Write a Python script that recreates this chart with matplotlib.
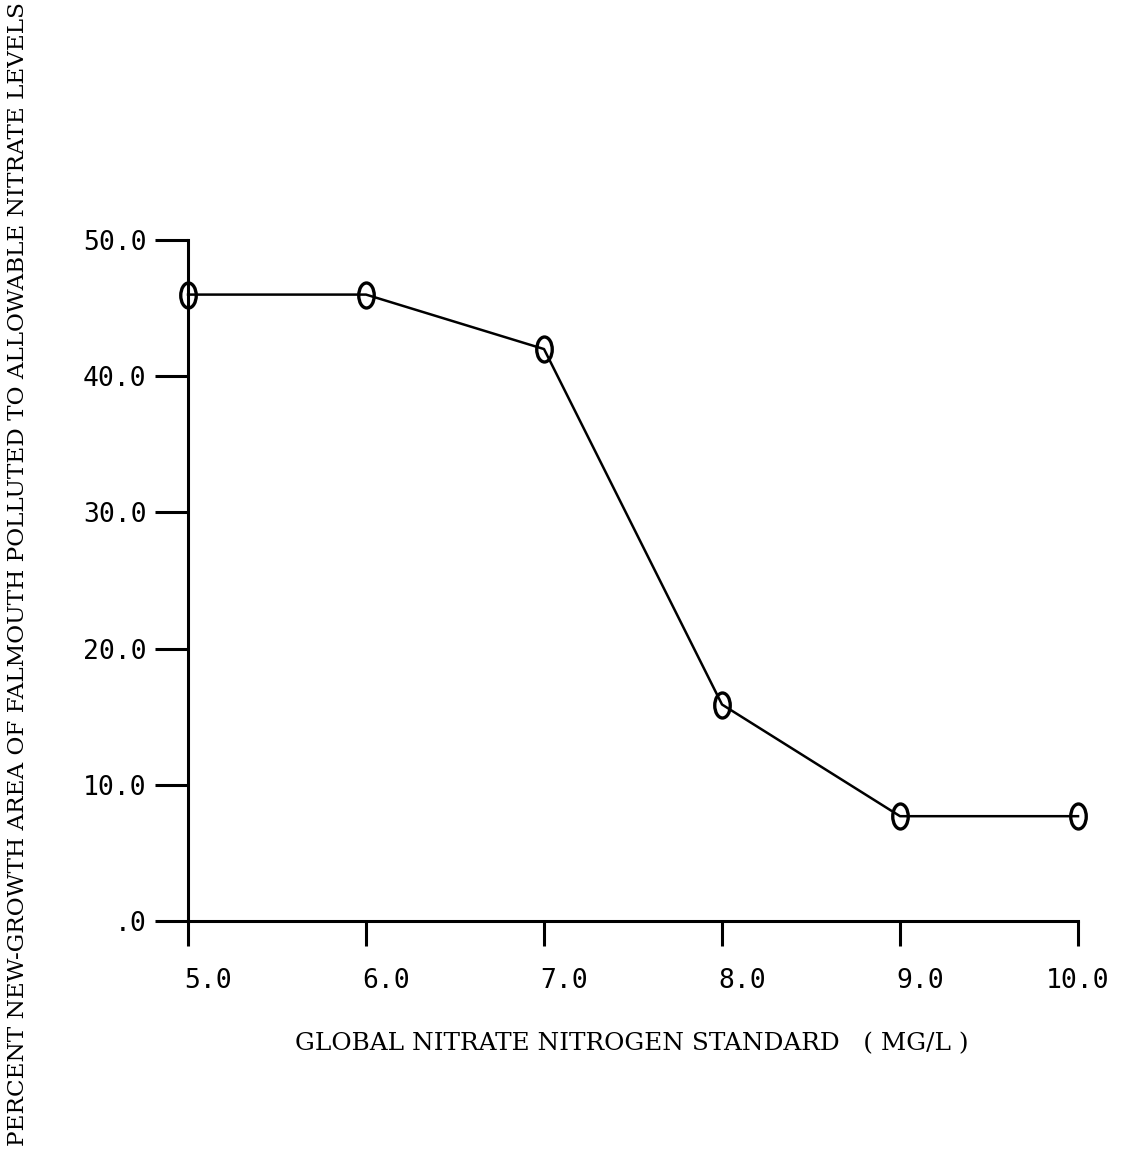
import numpy as np
import matplotlib
matplotlib.use("Agg")
import matplotlib.pyplot as plt
from matplotlib.path import Path
from matplotlib.transforms import Affine2D, ScaledTranslation

# data
standard_mg_l = [5.0, 6.0, 7.0, 8.0, 9.0, 10.0]
pct_area = [46.0, 46.0, 42.0, 15.9, 7.7, 7.7]
x_ticks = [5.0, 6.0, 7.0, 8.0, 9.0, 10.0]
x_ticklabels = ["5.0", "6.0", "7.0", "8.0", "9.0", "10.0"]
y_ticks = [0, 10, 20, 30, 40, 50]
y_ticklabels = [".0", "10.0", "20.0", "30.0", "40.0", "50.0"]

# narrow "0"-like ellipse marker
ell = Path.unit_circle().transformed(Affine2D().scale(0.62, 1.0))

fig = plt.figure(figsize=(11.41, 11.69), dpi=100)
ax = fig.add_axes([0.1648, 0.2121, 0.780, 0.5825])

ax.plot(standard_mg_l, pct_area, color="black", lw=1.8,
        marker=ell, markersize=18, markerfacecolor="none",
        markeredgecolor="black", markeredgewidth=2.4, clip_on=False)

ax.set_xlim(5.0, 10.0)
ax.set_ylim(0, 50)
for s in ["top", "right"]:
    ax.spines[s].set_visible(False)
for s in ["left", "bottom"]:
    ax.spines[s].set_linewidth(2.2)

ax.set_xticks(x_ticks)
ax.set_xticklabels(x_ticklabels, fontfamily="DejaVu Sans Mono", fontsize=19)
ax.set_yticks(y_ticks)
ax.set_yticklabels(y_ticklabels, fontfamily="DejaVu Sans Mono", fontsize=19)
ax.tick_params(axis="x", direction="out", length=18, width=2.2, pad=16)
ax.tick_params(axis="y", direction="out", length=24, width=2.2, pad=6)

# the typed x labels sit a little right of their ticks
shift = ScaledTranslation(0.2, 0, fig.dpi_scale_trans)
for lbl in ax.get_xticklabels()[:-1]:
    lbl.set_transform(lbl.get_transform() + shift)

fig.text(0.554, 0.107, "GLOBAL NITRATE NITROGEN STANDARD   ( MG/L )",
         ha="center", va="center", fontfamily="DejaVu Serif", fontsize=17.8)
fig.text(0.016, 0.509,
         "PERCENT NEW-GROWTH AREA OF FALMOUTH POLLUTED TO ALLOWABLE NITRATE LEVELS",
         ha="center", va="center", rotation=90,
         fontfamily="DejaVu Serif", fontsize=16.7)

fig.savefig("out.png", dpi=100)
